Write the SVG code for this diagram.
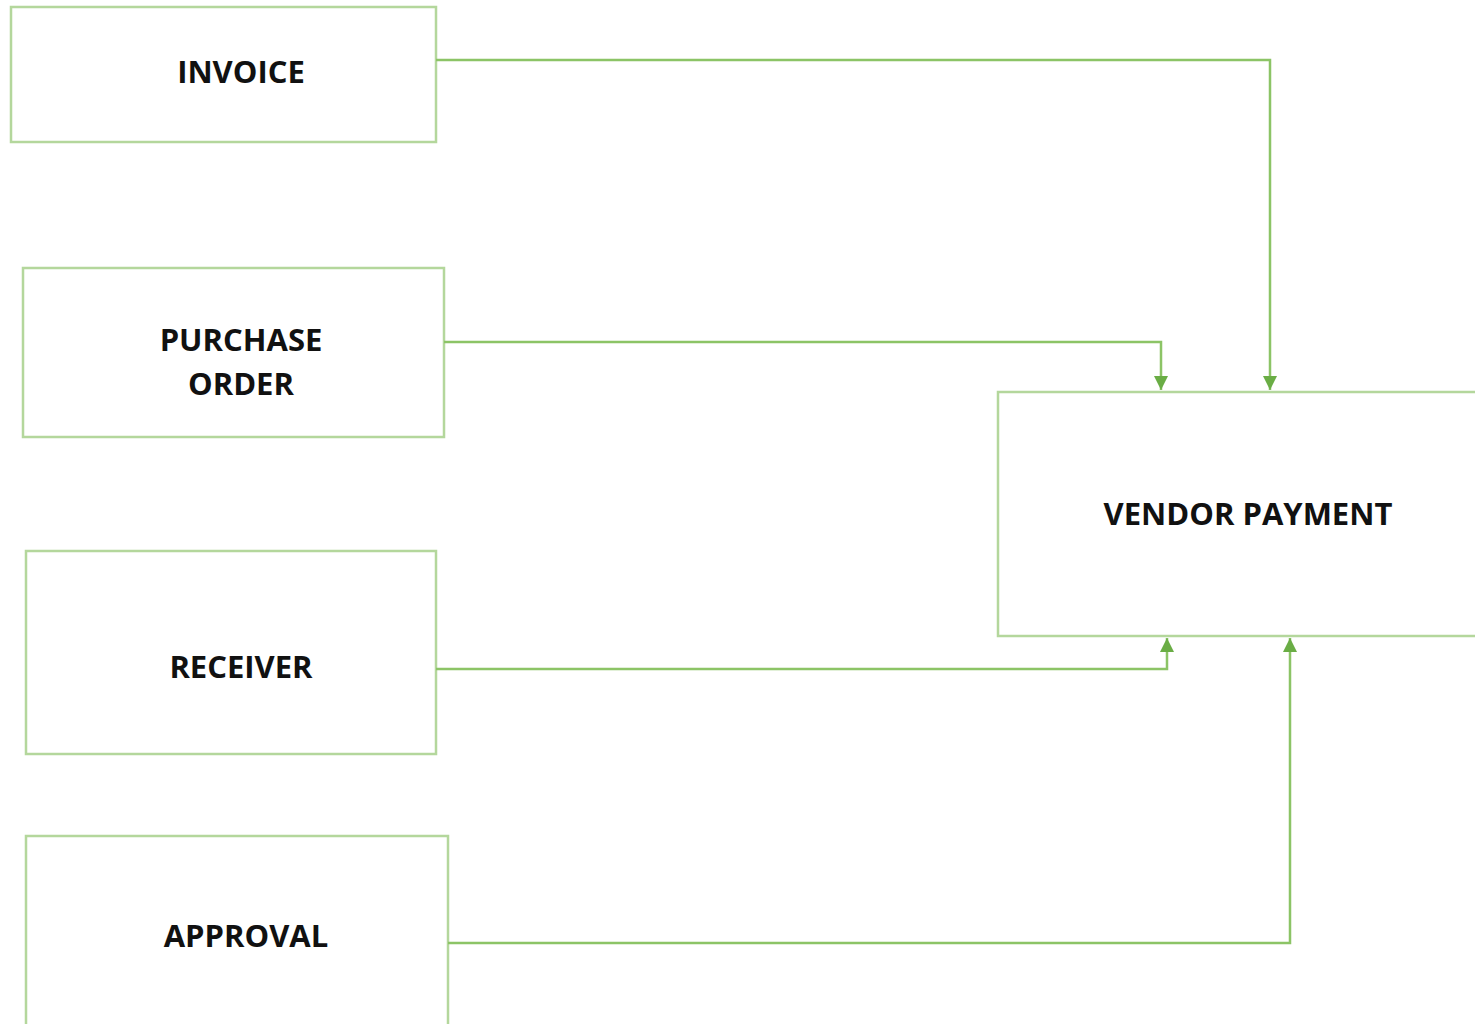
<svg xmlns="http://www.w3.org/2000/svg" width="1475" height="1024" viewBox="0 0 1475 1024">
<style>
.box{fill:#fff;stroke:#b4d79c;stroke-width:2.5}
.lbl{font-family:"Open Sans","Liberation Sans",sans-serif;font-weight:700;font-size:31px;fill:#111;text-anchor:middle}
.con{fill:none;stroke:#8cc466;stroke-width:2.5}
</style>
<defs>
<marker id="ah" viewBox="0 0 10 10" refX="10" refY="5" markerWidth="5.6" markerHeight="5.6" orient="auto" markerUnits="strokeWidth">
<path d="M0,0 L10,5 L0,10 Z" fill="#6aad45"/>
</marker>
</defs>
<rect width="1475" height="1024" fill="#fff"/>
<g id="invoice"><rect class="box" x="11" y="7" width="425" height="135"/><text class="lbl" x="241" y="83">INVOICE</text></g>
<g id="purchase-order"><rect class="box" x="23" y="268" width="421" height="169"/><text class="lbl" x="241" y="351">PURCHASE</text><text class="lbl" x="241" y="395">ORDER</text></g>
<g id="receiver"><rect class="box" x="26" y="551" width="410" height="203"/><text class="lbl" x="241" y="678">RECEIVER</text></g>
<g id="approval"><rect class="box" x="26" y="836" width="422" height="200"/><text class="lbl" x="246" y="947">APPROVAL</text></g>
<g id="vendor-payment"><rect class="box" x="998" y="392" width="490" height="244"/><text class="lbl" x="1248" y="525">VENDOR PAYMENT</text></g>
<g id="connectors">
<path class="con" d="M436,60 H1270 V390" marker-end="url(#ah)"/>
<path class="con" d="M444,342 H1161 V390" marker-end="url(#ah)"/>
<path class="con" d="M436,669 H1167 V638" marker-end="url(#ah)"/>
<path class="con" d="M448,943 H1290 V638" marker-end="url(#ah)"/>
</g>
</svg>
